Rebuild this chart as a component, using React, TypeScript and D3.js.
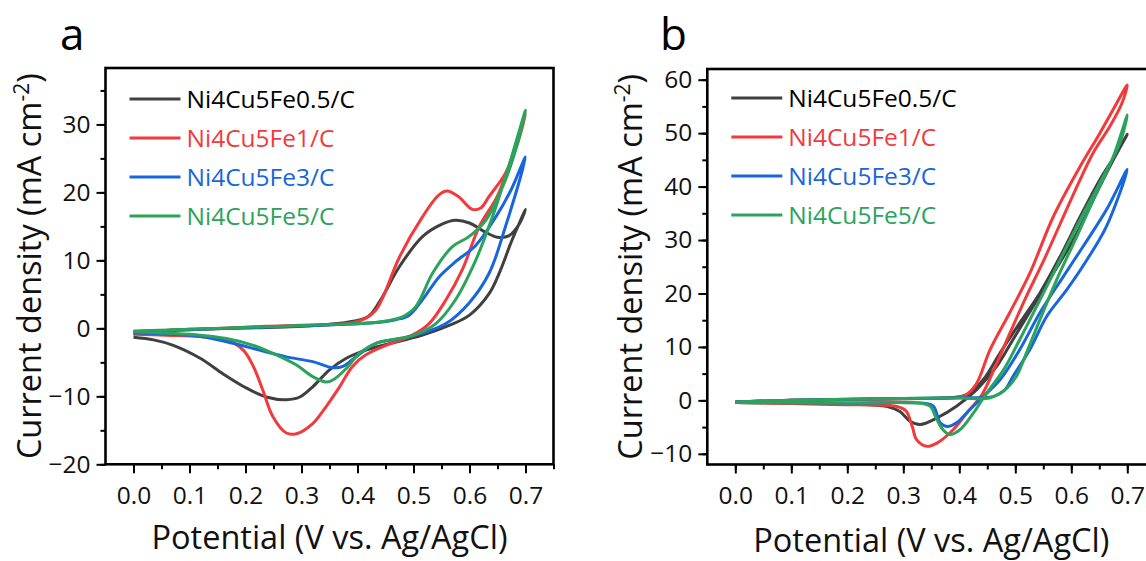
import React, { useEffect, useRef } from "react";
import * as d3 from "d3";

type Pt = [number, number];

// legend / series
const seriesNames = ["Ni4Cu5Fe0.5/C", "Ni4Cu5Fe1/C", "Ni4Cu5Fe3/C", "Ni4Cu5Fe5/C"];
const seriesColors = ["#404040", "#f23a3c", "#1766dd", "#2ba35c"];
const legendTextColors = ["#000000", "#f23a3c", "#1766dd", "#2ba35c"];

// ticks
const xMajor = [0, 0.1, 0.2, 0.3, 0.4, 0.5, 0.6, 0.7];
const xMinor = [0, 0.05, 0.1, 0.15, 0.2, 0.25, 0.3, 0.35, 0.4, 0.45, 0.5, 0.55, 0.6, 0.65, 0.7, 0.75];
const aYMajor = [-20, -10, 0, 10, 20, 30];
const aYMinor = [-20, -15, -10, -5, 0, 5, 10, 15, 20, 25, 30, 35];
const bYMajor = [-10, 0, 10, 20, 30, 40, 50, 60];
const bYMinor = [-10, -5, 0, 5, 10, 15, 20, 25, 30, 35, 40, 45, 50, 55, 60];

// panel a : CV loops (potential V, current mA cm-2), forward scan then return
const aBlack: Pt[] = [
  [0.0, -0.8], [0.05, -0.35], [0.1, -0.15], [0.2, 0.05], [0.3, 0.3], [0.35, 0.6], [0.39, 1.0],
  [0.42, 1.8], [0.44, 4.0], [0.475, 9.1], [0.516, 13.5], [0.55, 15.3], [0.575, 15.9], [0.6, 15.5],
  [0.625, 14.3], [0.65, 13.4], [0.67, 13.6], [0.69, 15.5], [0.7, 17.5],
  [0.676, 13.0], [0.655, 8.5], [0.635, 5.1], [0.6, 1.95], [0.558, 0.24], [0.516, -1.0], [0.469, -2.0],
  [0.415, -3.2], [0.38, -4.4], [0.35, -6.1], [0.32, -8.6], [0.297, -10.1], [0.273, -10.5],
  [0.237, -10.1], [0.202, -8.8], [0.16, -6.7], [0.119, -4.4], [0.071, -2.5], [0.036, -1.7], [0.0, -1.3],
];
const aRed: Pt[] = [
  [0.0, -0.5], [0.1, -0.2], [0.237, 0.3], [0.3, 0.45], [0.39, 0.8], [0.415, 1.5], [0.433, 2.7],
  [0.445, 4.5], [0.475, 10.5], [0.516, 16.4], [0.545, 19.6], [0.56, 20.2], [0.58, 19.4], [0.605, 17.5],
  [0.62, 17.7], [0.635, 19.4], [0.664, 22.8], [0.685, 27.0], [0.7, 31.5],
  [0.675, 25.0], [0.65, 19.5], [0.617, 14.9], [0.587, 8.6], [0.558, 4.2], [0.528, 0.7], [0.498, -1.0],
  [0.451, -2.5], [0.415, -3.9], [0.391, -5.6], [0.368, -8.6], [0.344, -11.5], [0.32, -14.0],
  [0.291, -15.5], [0.273, -15.4], [0.249, -13.0], [0.231, -9.1], [0.214, -5.6], [0.196, -3.2],
  [0.166, -1.7], [0.119, -1.2], [0.059, -1.0], [0.0, -0.85],
];
const aBlue: Pt[] = [
  [0.0, -0.5], [0.1, -0.2], [0.237, 0.2], [0.35, 0.5], [0.439, 0.9], [0.47, 1.3], [0.492, 1.9],
  [0.516, 4.2], [0.546, 7.6], [0.575, 9.8], [0.611, 12.2], [0.647, 16.4], [0.675, 20.5], [0.7, 25.2],
  [0.664, 14.9], [0.635, 8.1], [0.599, 3.7], [0.558, 0.7], [0.516, -0.7], [0.475, -1.5], [0.433, -2.2],
  [0.397, -4.2], [0.374, -5.6], [0.356, -5.8], [0.32, -4.9], [0.273, -4.2], [0.225, -3.2],
  [0.178, -2.2], [0.119, -1.2], [0.0, -0.7],
];
const aGreen: Pt[] = [
  [0.0, -0.4], [0.1, -0.15], [0.237, 0.24], [0.35, 0.55], [0.439, 0.95], [0.48, 1.7], [0.504, 3.2],
  [0.534, 8.1], [0.569, 12.0], [0.599, 13.5], [0.629, 15.9], [0.664, 21.8], [0.685, 27.0], [0.7, 32.1],
  [0.67, 23.8], [0.641, 16.4], [0.611, 10.0], [0.575, 4.2], [0.54, 0.7], [0.498, -1.1], [0.475, -1.5],
  [0.433, -2.2], [0.403, -3.7], [0.38, -5.9], [0.356, -7.6], [0.344, -7.9], [0.32, -7.1],
  [0.291, -5.4], [0.255, -3.9], [0.214, -2.5], [0.166, -1.5], [0.119, -1.0], [0.0, -0.5],
];

// panel b
const bBlack: Pt[] = [
  [0.0, -0.3], [0.1, 0.0], [0.2, 0.15], [0.3, 0.3], [0.38, 0.5], [0.405, 0.8], [0.419, 1.4],
  [0.443, 3.9], [0.473, 8.9], [0.508, 14.5], [0.544, 20.1], [0.58, 26.9], [0.616, 34.4],
  [0.651, 41.3], [0.681, 46.3], [0.7, 49.8],
  [0.675, 45.0], [0.639, 37.5], [0.604, 30.1], [0.568, 23.8], [0.532, 17.6], [0.496, 11.4],
  [0.467, 6.4], [0.431, 2.0], [0.395, -1.1], [0.36, -3.3], [0.33, -4.5], [0.312, -3.9], [0.294, -2.1],
  [0.27, -1.1], [0.2, -0.7], [0.1, -0.5], [0.0, -0.4],
];
const bRed: Pt[] = [
  [0.0, -0.3], [0.1, 0.0], [0.2, 0.15], [0.3, 0.3], [0.39, 0.5], [0.41, 0.9], [0.43, 3.0],
  [0.455, 9.5], [0.49, 16.4], [0.526, 23.8], [0.568, 34.4], [0.616, 43.8], [0.651, 50.0],
  [0.681, 55.6], [0.7, 59.0],
  [0.69, 55.5], [0.669, 51.3], [0.639, 46.3], [0.61, 40.0], [0.58, 33.0], [0.55, 26.0], [0.52, 19.5],
  [0.49, 12.5], [0.465, 6.5], [0.44, 1.0], [0.413, -2.4], [0.389, -5.5], [0.36, -8.0], [0.342, -8.6],
  [0.324, -7.4], [0.316, -4.9], [0.305, -2.0], [0.29, -1.2], [0.2, -0.8], [0.1, -0.6], [0.0, -0.4],
];
const bBlue: Pt[] = [
  [0.0, -0.3], [0.1, 0.0], [0.2, 0.2], [0.3, 0.35], [0.4, 0.5], [0.46, 0.7], [0.48, 1.8],
  [0.496, 4.5], [0.526, 9.5], [0.556, 15.7], [0.592, 20.7], [0.628, 26.3], [0.663, 32.6], [0.7, 43.2],
  [0.663, 35.7], [0.621, 28.8], [0.586, 23.2], [0.544, 16.4], [0.508, 9.5], [0.473, 3.9],
  [0.443, 0.75], [0.419, -1.7], [0.395, -4.2], [0.378, -4.9], [0.366, -4.2], [0.354, -1.1],
  [0.34, -0.6], [0.2, -0.5], [0.0, -0.4],
];
const bGreen: Pt[] = [
  [0.0, -0.3], [0.1, 0.0], [0.2, 0.2], [0.3, 0.35], [0.4, 0.45], [0.455, 0.5], [0.485, 2.3],
  [0.502, 4.5], [0.52, 8.9], [0.544, 15.1], [0.574, 22.6], [0.61, 30.7], [0.645, 38.8],
  [0.675, 45.6], [0.7, 53.4],
  [0.687, 48.2], [0.651, 40.7], [0.616, 33.8], [0.58, 26.3], [0.544, 18.8], [0.508, 11.4],
  [0.479, 5.7], [0.449, 1.4], [0.425, -2.4], [0.401, -5.5], [0.383, -6.4], [0.371, -5.5],
  [0.36, -3.6], [0.348, -1.1], [0.335, -0.6], [0.2, -0.5], [0.0, -0.4],
];

const FONT = "'Open Sans', 'Noto Sans', sans-serif";
const W = 1146;
const H = 561;

function drawPanel(svg: any, p: any) {
  const x = d3.scaleLinear().domain([-0.05, 0.75]).range([p.left, p.left + 448]);
  const y = d3.scaleLinear().domain(p.yDomain).range([p.bottom, p.top]);
  const g = svg.append("g");

  // curves
  const line = d3.line<Pt>()
    .x((d) => x(d[0]))
    .y((d) => y(d[1]))
    .curve(d3.curveCatmullRom.alpha(0.5));
  p.curves.forEach((c: Pt[], i: number) => {
    g.append("path")
      .attr("d", line(c))
      .attr("fill", "none")
      .attr("stroke", seriesColors[i])
      .attr("stroke-width", 3)
      .attr("stroke-linejoin", "round");
  });

  // axes (minor first, then major with labels)
  const styleAxis = (ax: any) => {
    ax.select(".domain").remove();
    ax.selectAll("line").attr("stroke", "#000").attr("stroke-width", 2);
    ax.selectAll("text").attr("font-family", FONT).attr("font-size", 24.5).attr("fill", "#111");
  };
  const xb = g.append("g").attr("transform", `translate(0,${p.bottom})`);
  xb.append("g").call(d3.axisBottom(x).tickValues(xMinor).tickSize(5).tickFormat(() => "")).call(styleAxis);
  xb.append("g")
    .call(d3.axisBottom(x).tickValues(xMajor).tickSize(9).tickPadding(13).tickFormat(d3.format(".1f")))
    .call(styleAxis);

  const yl = g.append("g").attr("transform", `translate(${p.left},0)`);
  yl.append("g").call(d3.axisLeft(y).tickValues(p.yMinor).tickSize(5).tickFormat(() => "")).call(styleAxis);
  yl.append("g")
    .call(d3.axisLeft(y).tickValues(p.yMajor).tickSize(9).tickPadding(6).tickFormat(d3.format("d")))
    .call(styleAxis);

  // frame
  g.append("rect")
    .attr("x", x(-0.05))
    .attr("y", y(p.yDomain[1]))
    .attr("width", x(0.75) - x(-0.05))
    .attr("height", y(p.yDomain[0]) - y(p.yDomain[1]))
    .attr("fill", "none")
    .attr("stroke", "#000")
    .attr("stroke-width", 2.6);

  // legend
  seriesNames.forEach((name, i) => {
    const ly = p.legendTop + i * 39;
    g.append("line")
      .attr("x1", p.left + 24).attr("x2", p.left + 75)
      .attr("y1", ly).attr("y2", ly)
      .attr("stroke", seriesColors[i]).attr("stroke-width", 3);
    g.append("text")
      .attr("x", p.left + 81).attr("y", ly + 9)
      .attr("font-family", FONT).attr("font-size", 24.5)
      .attr("fill", legendTextColors[i])
      .text(name);
  });

  // axis titles
  g.append("text")
    .attr("x", x(0.35)).attr("y", p.xTitleY)
    .attr("text-anchor", "middle")
    .attr("font-family", FONT).attr("font-size", 32.5).attr("fill", "#111")
    .text("Potential (V vs. Ag/AgCl)");

  const yt = g.append("text")
    .attr("transform", `translate(${p.yTitleX},${(p.top + p.bottom) / 2}) rotate(-90)`)
    .attr("text-anchor", "middle")
    .attr("font-family", FONT).attr("font-size", 32.5).attr("fill", "#111");
  yt.append("tspan").text("Current density (mA cm");
  yt.append("tspan").attr("dy", -12).attr("font-size", 21).text("-2");
  yt.append("tspan").attr("dy", 12).text(")");

  // panel letter
  g.append("text")
    .attr("x", p.letterX).attr("y", 49.5)
    .attr("font-family", FONT).attr("font-size", 44).attr("fill", "#000")
    .text(p.letter);
}

export default function App() {
  const svgRef = useRef<SVGSVGElement>(null);

  useEffect(() => {
    const svg = d3.select(svgRef.current);
    svg.selectAll("*").remove();
    svg.append("rect").attr("width", W).attr("height", H).attr("fill", "#fff");

    drawPanel(svg, {
      left: 105.5, top: 68, bottom: 464.3,
      yDomain: [-20, 38.3], yMajor: aYMajor, yMinor: aYMinor,
      curves: [aBlack, aRed, aBlue, aGreen],
      legendTop: 99, xTitleY: 549, yTitleX: 41,
      letter: "a", letterX: 60,
    });
    drawPanel(svg, {
      left: 707.3, top: 69, bottom: 464.5,
      yDomain: [-12, 62], yMajor: bYMajor, yMinor: bYMinor,
      curves: [bBlack, bRed, bBlue, bGreen],
      legendTop: 98, xTitleY: 552, yTitleX: 642,
      letter: "b", letterX: 660,
    });
  }, []);

  return (
    <svg
      ref={svgRef}
      width={W}
      height={H}
      style={{ position: "absolute", left: 0, top: 0 }}
    ></svg>
  );
}
